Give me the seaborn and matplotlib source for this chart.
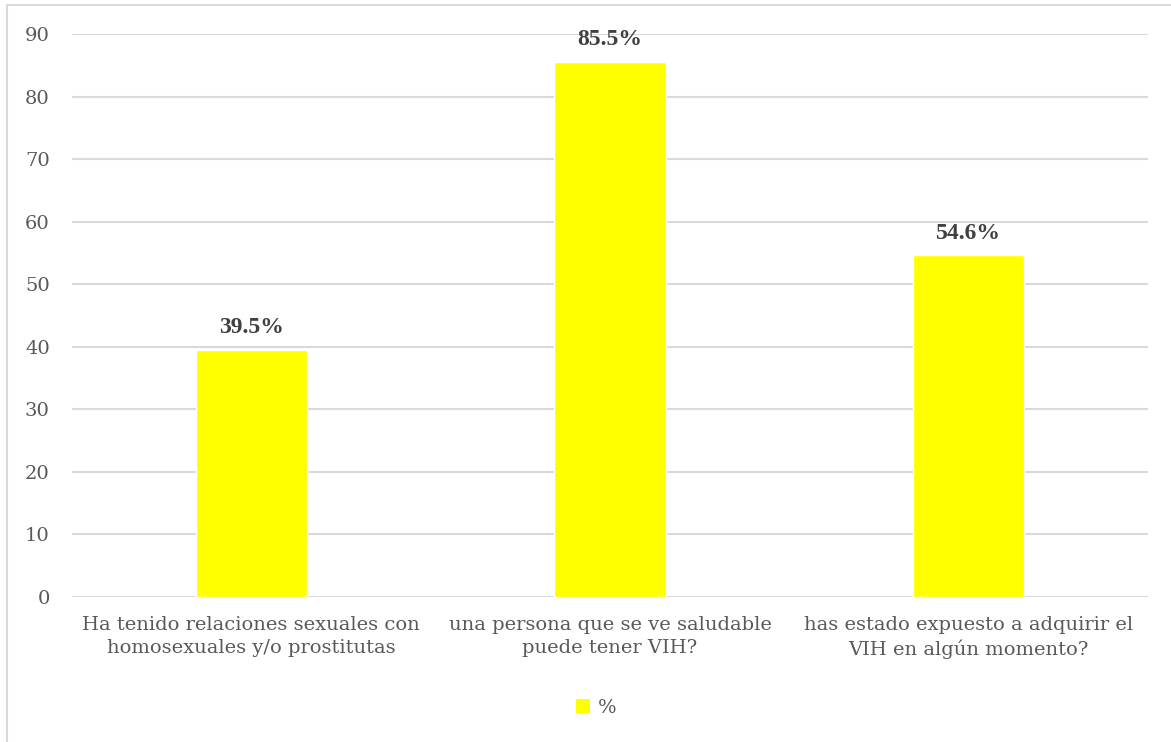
import matplotlib
matplotlib.use("Agg")
import matplotlib.pyplot as plt
import seaborn as sns
import pandas as pd
from matplotlib.patches import Rectangle, Patch

categories = [
    "Ha tenido relaciones sexuales con\nhomosexuales y/o prostitutas",
    "una persona que se ve saludable\npuede tener VIH?",
    "has estado expuesto a adquirir el\nVIH en algún momento?",
]
values = [39.5, 85.5, 54.6]
value_labels = ["39.5%", "85.5%", "54.6%"]
series_name = "%"
y_ticks = [0, 10, 20, 30, 40, 50, 60, 70, 80, 90]

df = pd.DataFrame({"categoria": categories, "valor": values})

sns.set_theme(style="white")
plt.rcParams["font.family"] = ["DejaVu Serif"]

fig = plt.figure(figsize=(11.71, 7.42), dpi=100)
fig.patch.set_facecolor("white")
ax = fig.add_axes([0.0615, 0.1954, 0.9188, 0.7588])
ax.set_axisbelow(True)

sns.barplot(data=df, x="categoria", y="valor", color="#FFFF00", saturation=1,
            width=0.31, ax=ax)

ax.set_ylim(0, 90)
ax.set_yticks(y_ticks)
ax.set_xlim(-0.5, 2.5)
ax.set_xlabel("")
ax.set_ylabel("")
ax.yaxis.grid(True, color="#D9D9D9", linewidth=1.5)
for s in ax.spines.values():
    s.set_visible(False)
ax.tick_params(axis="both", length=0, labelsize=14, labelcolor="#595959")
ax.tick_params(axis="y", pad=16)
ax.tick_params(axis="x", pad=14)
for t in ax.get_xticklabels():
    t.set_linespacing(1.35)

for i, (v, lab) in enumerate(zip(values, value_labels)):
    ax.annotate(lab, xy=(i, v), xytext=(0, 12), textcoords="offset points",
                ha="center", va="baseline", fontsize=17, fontweight="bold",
                color="#404040", family=["Liberation Serif"])

handles = [Patch(facecolor="#FFFF00", edgecolor="none")]
fig.legend(handles, [series_name], loc="center", bbox_to_anchor=(0.509, 0.046),
           frameon=False, fontsize=14, handlelength=0.7, handleheight=0.7,
           handletextpad=0.4, labelcolor="#595959")

fig.add_artist(Rectangle((7 / 1171, -0.1), 1.2, 1 - 5 / 742 + 0.1,
                         transform=fig.transFigure, fill=False,
                         edgecolor="#D9D9D9", linewidth=1.5))

fig.savefig("out.png", dpi=100)
